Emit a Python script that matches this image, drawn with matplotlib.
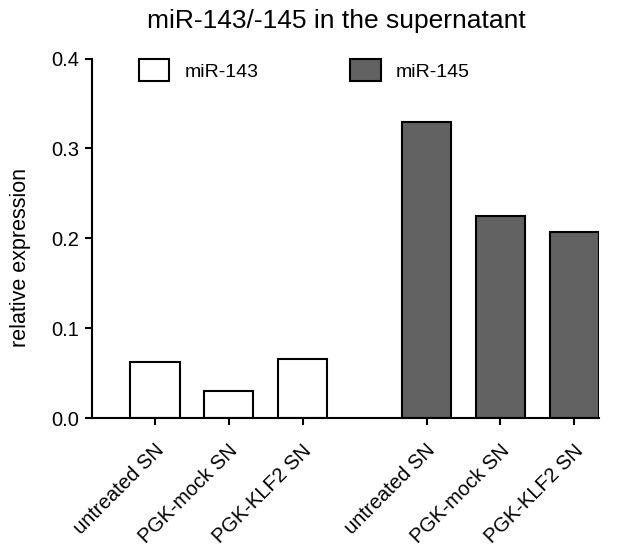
import matplotlib
matplotlib.use("Agg")
import matplotlib.pyplot as plt
from matplotlib.patches import Patch
from matplotlib.transforms import ScaledTranslation

plt.rcParams['font.family'] = ['Liberation Sans', 'DejaVu Sans']

categories = ["untreated SN", "PGK-mock SN", "PGK-KLF2 SN"]
mir143 = [0.063, 0.030, 0.066]
mir145 = [0.329, 0.225, 0.207]
series_names = ["miR-143", "miR-145"]
title = "miR-143/-145 in the supernatant"
ylabel = "relative expression"

fig = plt.figure(figsize=(6.25, 5.52), dpi=100)
ax = fig.add_axes([0.147, 0.242, 0.811, 0.652])

gap = 1.68
x1 = [0, 1, 2]
x2 = [2 + gap, 3 + gap, 4 + gap]
w = 0.667
ax.bar(x1, mir143, width=w, color="white", edgecolor="black", linewidth=1.5)
ax.bar(x2, mir145, width=w, color="#626262", edgecolor="black", linewidth=1.5)

ax.set_xlim(-0.857, x2[-1] + w / 2)
ax.set_ylim(0, 0.4)
ax.set_yticks([0.0, 0.1, 0.2, 0.3, 0.4])
ax.set_yticklabels(["0.0", "0.1", "0.2", "0.3", "0.4"])
ax.set_xticks(x1 + x2)
ax.set_xticklabels(categories + categories, rotation=45, ha="right",
                   rotation_mode="anchor")
for s in ["top", "right"]:
    ax.spines[s].set_visible(False)
for s in ["left", "bottom"]:
    ax.spines[s].set_linewidth(1.5)
ax.tick_params(axis="both", width=1.5, length=5, direction="out")
ax.tick_params(axis="y", labelsize=14.5, pad=4)
ax.tick_params(axis="x", labelsize=14.5, pad=4)
off = ScaledTranslation(-1 / 100, -10 / 100, fig.dpi_scale_trans)
for lbl in ax.get_xticklabels():
    lbl.set_transform(lbl.get_transform() + off)
ax.set_ylabel(ylabel, fontsize=15.5, labelpad=12)
ax.yaxis.set_label_coords(-0.121, 0.448)
fig.text(0.538, 0.962, title, fontsize=19, ha="center", va="center")

handles = [Patch(facecolor="white", edgecolor="black", linewidth=1.5),
           Patch(facecolor="#626262", edgecolor="black", linewidth=1.5)]
ax.legend(handles, series_names, loc="upper left", bbox_to_anchor=(0.059, 1.046),
          ncol=2, frameon=False, fontsize=14, handlelength=1.55, handleheight=1.35,
          columnspacing=4.7, handletextpad=0.8)

fig.savefig("out.png", dpi=100)
